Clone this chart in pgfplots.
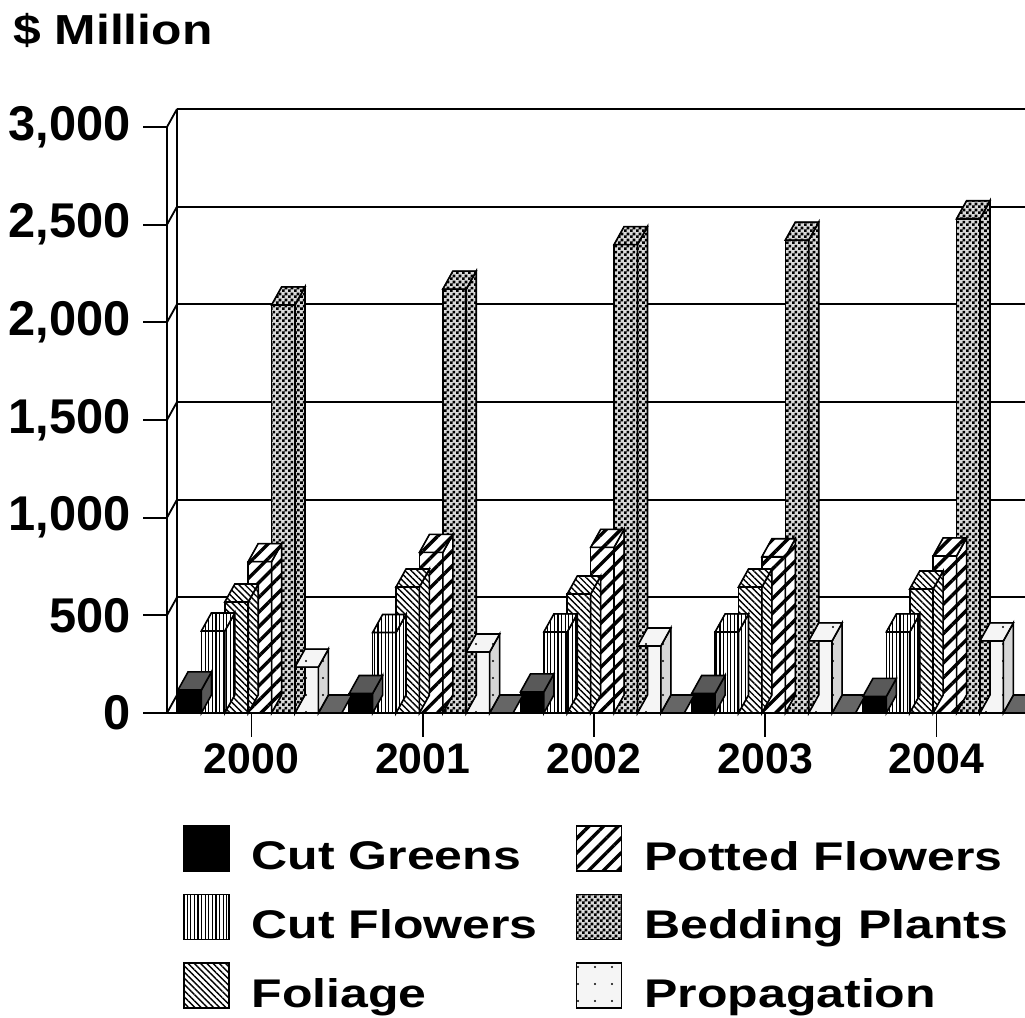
\documentclass[border=0pt]{standalone}
\usepackage{fontspec}
\setmainfont{Liberation Sans}
\usepackage{graphicx}
\usepackage{pgfplots}
\usepackage{pgfplotstable}
\pgfplotsset{compat=1.18}
\usetikzlibrary{patterns,patterns.meta}

\newdimen\tdA \newdimen\tdB
\pgfdeclareplotmark{empty}{}
\pgfdeclarepatternformonly{checker}{\pgfpointorigin}{\pgfpoint{3pt}{3pt}}{\pgfpoint{3pt}{3pt}}{%
  \pgfpathrectangle{\pgfpointorigin}{\pgfpoint{1.5pt}{1.5pt}}%
  \pgfpathrectangle{\pgfpoint{1.5pt}{1.5pt}}{\pgfpoint{1.5pt}{1.5pt}}%
  \pgfusepath{fill}}

\newcommand\tickfont{\fontsize{24.4}{28}\selectfont\bfseries}
\newcommand\xfont{\fontsize{21.4}{25}\selectfont\bfseries}
\newcommand\legfont{\fontsize{20}{24}\selectfont\bfseries}
\newcommand\titlefont{\fontsize{21}{25}\selectfont\bfseries}
\newcommand\lgs[1]{\scalebox{1.25}[1]{#1}}

\tikzset{
  cgF/.style={fill=black},
  cgT/.style={fill=black!65},
  cfF/.style={preaction={fill=white}, pattern={Lines[angle=90,distance=1.8pt,line width=0.55pt]}},
  folF/.style={preaction={fill=white}, pattern={Lines[angle=-45,distance=2.2pt,line width=0.7pt]}},
  potF/.style={preaction={fill=white}, pattern={Lines[angle=45,distance=5.2pt,line width=1.7pt]}},
  bedF/.style={preaction={fill=black!15}, pattern=checker},
  proF/.style={preaction={fill=black!4}, pattern={Dots[distance=8.5pt,radius=0.6pt]}},
  proS/.style={preaction={fill=black!16}, pattern={Dots[distance=8.5pt,radius=0.6pt]}},
  zeroT/.style={fill=black!60},
}

\pgfplotsset{
  front/.style n args={2}{ybar, bar width=11.7pt, bar shift=#2, draw=black, line width=0.8pt, #1,
    legend image code/.code={\draw[##1, line width=0.8pt] (0pt,-7.5pt) rectangle (22.5pt,15pt);}},
  box3d/.style n args={3}{forget plot, only marks, mark=empty, scatter,
    visualization depends on={y \as \yy},
    scatter/@pre marker code/.code={%
      \begingroup
      \pgfkeys{/pgf/fpu=false}%
      \pgfextracty{\tdA}{\pgfplotspointaxisxy{0}{\yy}}%
      \pgfextracty{\tdB}{\pgfplotspointaxisxy{0}{0}}%
      \advance\tdA by -\tdB
      \edef\H{\the\tdA}%
      \draw[line width=0.8pt,#2] (#3+5.85pt,0pt) -- (#3+10.85pt,9pt) -- ++(0pt,-\H) -- (#3+5.85pt,-\H) -- cycle;
      \draw[line width=0.8pt,#1] (#3-5.85pt,0pt) -- (#3+5.85pt,0pt) -- (#3+10.85pt,9pt) -- (#3-0.85pt,9pt) -- cycle;
      \endgroup
    },
    scatter/@post marker code/.code={}},
}

\pgfplotstableread{
x cg cf fol pot bed pro zero
0 118 420 568 775 2089 235 0
1 100 412 645 822 2170 312 0
2 108 415 609 848 2398 343 0
3 100 415 645 800 2421 369 0
4 85 415 635 804 2530 369 0
}\data

\begin{document}
\begin{tikzpicture}
\begin{axis}[
  at={(83.5pt,152.5pt)}, anchor=south west,
  scale only axis, width=429pt, height=293pt,
  disabledatascaling, clip=false,
  xmin=-0.4935, xmax=4.517, ymin=0, ymax=3000,
  enlargelimits=false,
  axis x line*=bottom, axis y line*=left,
  axis line style={-, line width=0.9pt, black},
  tick align=outside, major tick length=12pt,
  tick style={black, line width=0.9pt},
  xtick={0,1,2,3,4}, xticklabels={2000,2001,2002,2003,2004},
  ytick={0,500,...,3000}, minor tick num=0,
  scaled y ticks=false,
  /pgf/number format/1000 sep={,},
  /pgf/number format/assume math mode=true,
  yticklabel style={font=\tickfont, inner sep=0pt, xshift=-6pt},
  xticklabel style={font=\xfont, inner sep=0pt, yshift=-3pt},
  ymajorgrids,
  major grid style={black, line width=0.9pt, xshift=5pt, yshift=9pt},
  legend columns=3, transpose legend, legend cell align=left,
  legend style={at={(0.01865,-0.19113)}, anchor=north west, draw=none, fill=none,
    inner sep=0pt, outer sep=0pt, font=\legfont, row sep=11pt,
    nodes={inner sep=0pt, text depth=0pt},
    /tikz/every odd column/.append style={column sep=11pt},
    /tikz/every even column/.append style={column sep=19pt}},
]
\pgfplotsinvokeforeach{0,500,1000,1500,2000,2500,3000}{
  \draw[line width=0.9pt] (axis cs:-0.4935,#1) -- ++(5pt,9pt);
}
\draw[line width=0.9pt] ([shift={(5pt,0pt)}]axis cs:-0.4935,0) -- ([shift={(5pt,9pt)}]axis cs:-0.4935,3000);

\addplot[box3d={zeroT}{draw=none}{39.3pt}] table[x=x,y=zero]{\data};

\addplot[front={cgF}{-30.9pt}] table[x=x,y=cg]{\data};
\addlegendentry{\lgs{Cut Greens}}
\addplot[box3d={cgT}{cgT}{-30.9pt}] table[x=x,y=cg]{\data};

\addplot[front={cfF}{-19.2pt}] table[x=x,y=cf]{\data};
\addlegendentry{\lgs{Cut Flowers}}
\addplot[box3d={cfF}{cfF}{-19.2pt}] table[x=x,y=cf]{\data};

\addplot[front={folF}{-7.5pt}] table[x=x,y=fol]{\data};
\addlegendentry{\lgs{Foliage}}
\addplot[box3d={folF}{folF}{-7.5pt}] table[x=x,y=fol]{\data};

\addplot[front={potF}{4.2pt}] table[x=x,y=pot]{\data};
\addlegendentry{\lgs{Potted Flowers}}
\addplot[box3d={potF}{potF}{4.2pt}] table[x=x,y=pot]{\data};

\addplot[front={bedF}{15.9pt}] table[x=x,y=bed]{\data};
\addlegendentry{\lgs{Bedding Plants}}
\addplot[box3d={bedF}{bedF}{15.9pt}] table[x=x,y=bed]{\data};

\addplot[front={proF}{27.6pt}] table[x=x,y=pro]{\data};
\addlegendentry{\lgs{Propagation}}
\addplot[box3d={proF}{proS}{27.6pt}] table[x=x,y=pro]{\data};
\end{axis}
\node[anchor=base west, inner sep=0pt, font=\titlefont] at (6.5pt,486.5pt) {\scalebox{1.185}[1]{\$ Million}};
\pgfresetboundingbox
\path[use as bounding box] (0,0) rectangle (512.5pt,509pt);
\end{tikzpicture}
\end{document}
